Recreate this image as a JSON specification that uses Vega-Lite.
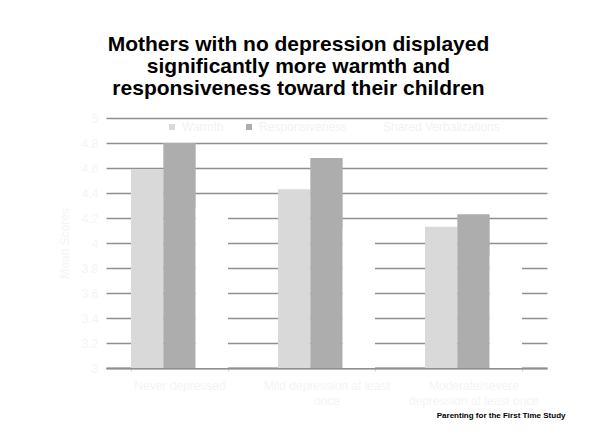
{
  "$schema": "https://vega.github.io/schema/vega-lite/v6.json",
  "width": 441,
  "height": 250,
  "autosize": {"type": "none"},
  "padding": {"left": 106, "top": 118, "right": 47, "bottom": 78},
  "background": "white",
  "title": {
    "text": ["Mothers with no depression displayed", "significantly more warmth and", "responsiveness toward their children"],
    "font": "Liberation Sans",
    "fontSize": 21,
    "fontWeight": "bold",
    "lineHeight": 22,
    "color": "black",
    "anchor": "middle",
    "frame": "group",
    "dx": -28,
    "offset": 13
  },
  "data": {
    "values": [
      {"group": "Never depressed", "measure": "Warmth", "score": 4.59},
      {"group": "Never depressed", "measure": "Responsiveness", "score": 4.80},
      {"group": "Never depressed", "measure": "Shared Verbalizations", "score": 4.28},
      {"group": "Mild depression at least once", "measure": "Warmth", "score": 4.43},
      {"group": "Mild depression at least once", "measure": "Responsiveness", "score": 4.68},
      {"group": "Mild depression at least once", "measure": "Shared Verbalizations", "score": 4.12},
      {"group": "Moderate/severe depression at least once", "measure": "Warmth", "score": 4.13},
      {"group": "Moderate/severe depression at least once", "measure": "Responsiveness", "score": 4.23},
      {"group": "Moderate/severe depression at least once", "measure": "Shared Verbalizations", "score": 3.90}
    ]
  },
  "mark": {"type": "bar"},
  "encoding": {
    "x": {
      "field": "group",
      "type": "nominal",
      "sort": ["Never depressed", "Mild depression at least once", "Moderate/severe depression at least once"],
      "scale": {"paddingInner": 0.34, "paddingOuter": 0.17},
      "axis": {
        "labelAngle": 0,
        "labelColor": "#f4f4f4",
        "labelFontSize": 12,
        "labelPadding": 9,
        "labelLineHeight": 15,
        "labelBaseline": "top",
        "labelExpr": "datum.value == 'Mild depression at least once' ? ['Mild depression at least', 'once'] : datum.value == 'Moderate/severe depression at least once' ? ['Moderate/severe', 'depression at least once'] : datum.value",
        "domainColor": "#8f8f8f",
        "domainWidth": 2,
        "ticks": true,
        "tickBand": "extent",
        "tickColor": "#d0d0d0",
        "tickSize": 3,
        "grid": false,
        "title": "Parenting for the First Time Study",
        "titleFontSize": 8,
        "titleFontWeight": "bold",
        "titleColor": "black",
        "titleAlign": "right",
        "titleAnchor": "end",
        "titleX": 459,
        "titleY": 47,
        "titleBaseline": "middle"
      }
    },
    "xOffset": {
      "field": "measure",
      "sort": ["Warmth", "Responsiveness", "Shared Verbalizations"],
      "scale": {"paddingInner": 0, "paddingOuter": 0}
    },
    "y": {
      "field": "score",
      "type": "quantitative",
      "scale": {"domain": [3, 5], "nice": false, "zero": false},
      "axis": {
        "values": [3, 3.2, 3.4, 3.6, 3.8, 4, 4.2, 4.4, 4.6, 4.8, 5],
        "format": "~g",
        "grid": true,
        "gridColor": "#8f8f8f",
        "gridWidth": 1.5,
        "domain": false,
        "ticks": false,
        "labelColor": "#f4f4f4",
        "labelFontSize": 12,
        "labelPadding": 8,
        "title": "Mean Scores",
        "titleColor": "#f4f4f4",
        "titleFontSize": 12,
        "titleFontWeight": "normal",
        "titlePadding": 10
      }
    },
    "y2": {"datum": 3},
    "color": {
      "field": "measure",
      "type": "nominal",
      "sort": ["Warmth", "Responsiveness", "Shared Verbalizations"],
      "scale": {"domain": ["Warmth", "Responsiveness", "Shared Verbalizations"], "range": ["#d9d9d9", "#adadad", "#ffffff"]},
      "legend": {
        "orient": "none",
        "legendX": 60,
        "legendY": 3,
        "direction": "horizontal",
        "title": null,
        "symbolType": "square",
        "symbolSize": 36,
        "symbolStrokeWidth": 0,
        "labelColor": "#f2f2f2",
        "labelFontSize": 12,
        "labelOffset": 4,
        "columnPadding": 19,
        "padding": 0
      }
    }
  },
  "config": {
    "font": "Liberation Sans",
    "view": {"stroke": null}
  }
}
